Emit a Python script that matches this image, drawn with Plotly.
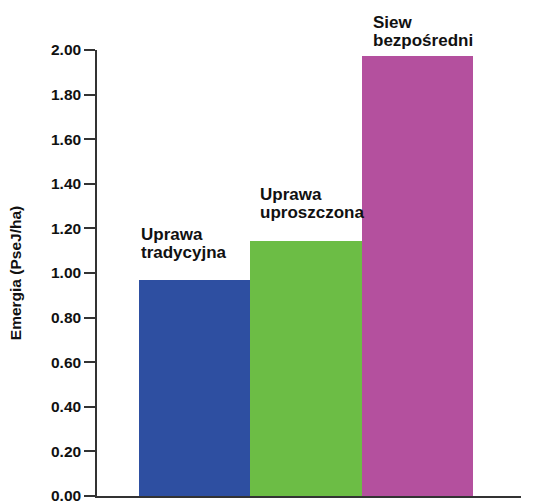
import plotly.graph_objects as go

categories = ["Uprawa<br>tradycyjna", "Uprawa<br>uproszczona", "Siew<br>bezpośredni"]
values = [0.97, 1.145, 1.973]
tick_vals = [0.0, 0.2, 0.4, 0.6, 0.8, 1.0, 1.2, 1.4, 1.6, 1.8, 2.0]
tick_text = ["0.00", "0.20", "0.40", "0.60", "0.80", "1.00", "1.20", "1.40", "1.60", "1.80", "2.00"]
y_title = "Emergia (PseJ/ha)"

colors = ["#2E4FA1", "#6CBD45", "#B4509E"]
label_xshift = [0, 8, 9]
label_yshift = [15.5, 16.5, 4]
line_gap = 18

xs = list(range(len(values)))
fig = go.Figure(go.Bar(x=xs, y=values, marker=dict(color=colors, line=dict(width=0)),
                       width=1.0, hoverinfo="skip"))

font_main = "Liberation Sans, Arial, sans-serif"
for i, (c, v) in enumerate(zip(categories, values)):
    lines = c.split("<br>")
    n = len(lines)
    for j, ln in enumerate(lines):
        fig.add_annotation(x=i - 0.5, y=v, text="<b>" + ln + "</b>", showarrow=False,
                           xanchor="left", yanchor="bottom", align="left",
                           xshift=label_xshift[i],
                           yshift=label_yshift[i] + (n - 1 - j) * line_gap,
                           font=dict(family=font_main, size=17, color="#111111"))

fig.update_layout(
    width=542, height=501,
    margin=dict(l=97, r=21, t=50, b=5, autoexpand=False),
    plot_bgcolor="white", paper_bgcolor="white",
    showlegend=False, bargap=0,
    xaxis=dict(range=[-0.878, 2.932], showticklabels=False, ticks="", showgrid=False,
               zeroline=False, showline=True, linecolor="#333333", linewidth=1.5,
               automargin=False),
    yaxis=dict(range=[0, 2.0], tickvals=tick_vals, ticktext=["<b>" + t + "</b>" for t in tick_text],
               ticks="outside", ticklen=11, tickwidth=1.5, tickcolor="#333333",
               ticklabeloverflow="allow", automargin=False,
               showgrid=False, zeroline=False, showline=True, linecolor="#333333", linewidth=1.5,
               tickfont=dict(family=font_main, size=15.5, color="#111111"),
               title=dict(text="<b>" + y_title + "</b>", standoff=26,
                          font=dict(family=font_main, size=15.5, color="#111111"))),
)

fig.write_html("out.html", config={"displayModeBar": False},
               post_script="document.body.style.margin='0';document.body.style.overflow='hidden';")
